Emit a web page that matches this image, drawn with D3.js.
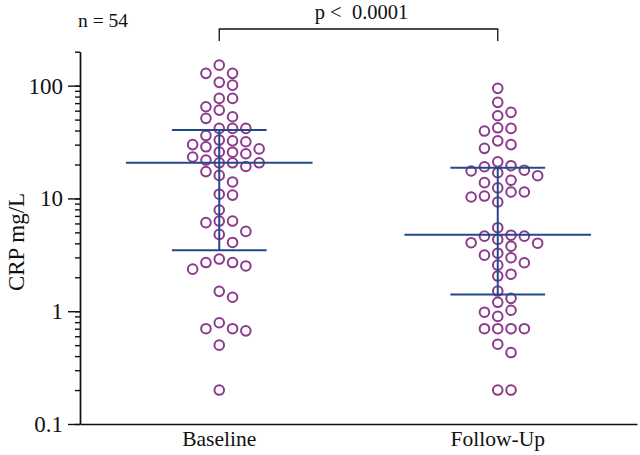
<!DOCTYPE html>
<html>
<head>
<meta charset="utf-8">
<script src="https://cdn.jsdelivr.net/npm/d3@7"></script>
<style>
  html, body { margin: 0; padding: 0; background: #fff; }
  svg { display: block; font-family: "Liberation Serif", "Times New Roman", serif; }
</style>
</head>
<body>
<svg id="chart" width="640" height="455"></svg>
<script>
// ---- data ----
const categories = ["Baseline", "Follow-Up"];
const baselineValues = [152, 128.6, 128.6, 107, 101, 77.1, 77.1, 65, 60.7, 53, 51.3,
  41.8, 41.8, 41.8, 36.1, 32.9, 32.4, 31.8, 30.0, 28.7, 27.5, 25.7, 24.9, 25.8, 23.3,
  21.9, 20.7, 20.7, 20.7, 19.2, 17.3, 16.0, 14.0, 10.7, 10.9, 7.9, 6.3, 6.3, 6.1,
  4.8, 5.1, 4.07, 2.9, 2.7, 2.7, 2.52, 2.36, 1.50, 1.33, 0.79, 0.70, 0.70, 0.67, 0.50, 0.20];
const followUpValues = [94.6, 71.1, 58.0, 54.1, 42.3, 41.8, 39.6, 32.4, 30.0, 27.8,
  21.1, 19.1, 17.5, 16.9, 17.8, 19.5, 14.5, 13.8, 15.9, 12.4, 11.4, 10.3, 10.5, 11.4,
  9.3, 5.5, 4.72, 4.33, 4.01, 3.77, 4.05, 4.63, 4.63, 3.14, 2.69, 2.98, 2.56, 3.27,
  2.13, 2.05, 1.51, 1.30, 1.20, 1.02, 0.98, 0.90, 0.70, 0.70, 0.70, 0.70, 0.51, 0.43, 0.20, 0.20];
const medians = [20.7, 4.77];
const q1Values = [3.48, 1.41];
const q3Values = [40.4, 18.7];
const yMajorTicks = [0.1, 1, 10, 100];
const yTickLabels = ["0.1", "1", "10", "100"];
const yDomain = [0.1, 200];
const yTitle = "CRP mg/L";
const nLabel = "n = 54";
const pLabel = "p <  0.0001";

// ---- layout ----
const svg = d3.select("#chart");
const plotLeft = 80, plotRight = 637, plotTop = 51.7, plotBottom = 424;
const purple = "#8b3a8c", navy = "#21498a";

const x = d3.scaleBand().domain(categories).range([plotLeft, plotRight]).padding(0);
const y = d3.scaleLog().domain(yDomain).range([plotBottom, plotTop]);

// y axis: minor ticks
const minorAxis = d3.axisLeft(y).tickValues(y.ticks()).tickSize(5).tickSizeOuter(0).tickFormat("");
svg.append("g").attr("transform", `translate(${plotLeft},0)`).call(minorAxis)
  .call(g => g.selectAll("line,path").attr("stroke", "#111").attr("stroke-width", 1.4));
// y axis: major ticks
const majorAxis = d3.axisLeft(y).tickValues(yMajorTicks).tickSize(12).tickSizeOuter(0)
  .tickPadding(5).tickFormat((d, i) => yTickLabels[i]);
svg.append("g").attr("transform", `translate(${plotLeft},0)`).call(majorAxis)
  .call(g => g.selectAll("line,path").attr("stroke", "#111").attr("stroke-width", 1.4))
  .call(g => g.selectAll("text").attr("font-family", "Liberation Serif").attr("font-size", 23).attr("fill", "#111"));

// x axis
const xAxis = d3.axisBottom(x).tickSize(0).tickSizeOuter(0).tickPadding(7);
svg.append("g").attr("transform", `translate(0,${plotBottom})`).call(xAxis)
  .call(g => g.select("path").attr("stroke", "#111").attr("stroke-width", 1.4))
  .call(g => g.selectAll("text").attr("font-family", "Liberation Serif").attr("font-size", 21.5).attr("fill", "#111"));

// y title
svg.append("text")
  .attr("transform", `translate(24,242) rotate(-90)`)
  .attr("text-anchor", "middle")
  .attr("font-size", 23).attr("fill", "#111")
  .text(yTitle);

// beeswarm layout (slots)
const r = 4.8, step = 13.3, minGap = 10.5;
function swarm(values, cx) {
  const pts = values.map(v => ({ v, py: y(v) })).sort((a, b) => a.py - b.py);
  const placed = [];
  const order = [0, 1, -1, 2, -2, 3, -3, 4, -4];
  pts.forEach(p => {
    for (const k of order) {
      const clash = placed.some(q => q.k === k && Math.abs(q.py - p.py) < minGap);
      if (!clash) { p.k = k; break; }
    }
    p.px = cx + p.k * step;
    placed.push(p);
  });
  return pts;
}

const groups = [baselineValues, followUpValues];
groups.forEach((vals, i) => {
  const cx = x(categories[i]) + x.bandwidth() / 2;
  const pts = swarm(vals, cx);
  svg.append("g").selectAll("circle").data(pts).join("circle")
    .attr("cx", d => d.px).attr("cy", d => d.py).attr("r", r)
    .attr("fill", "#fff").attr("stroke", purple).attr("stroke-width", 2);
});

// summary lines (on top)
categories.forEach((c, i) => {
  const cx = x(c) + x.bandwidth() / 2;
  const bw = x.bandwidth();
  const g = svg.append("g").attr("stroke", navy).attr("stroke-width", 2);
  g.append("line").attr("x1", cx - bw * 0.335).attr("x2", cx + bw * 0.335)
    .attr("y1", y(medians[i])).attr("y2", y(medians[i]));
  g.append("line").attr("x1", cx - bw * 0.17).attr("x2", cx + bw * 0.17)
    .attr("y1", y(q3Values[i])).attr("y2", y(q3Values[i]));
  g.append("line").attr("x1", cx - bw * 0.17).attr("x2", cx + bw * 0.17)
    .attr("y1", y(q1Values[i])).attr("y2", y(q1Values[i]));
  g.append("line").attr("x1", cx).attr("x2", cx)
    .attr("y1", y(q3Values[i])).attr("y2", y(q1Values[i]));
});

// significance bracket
const c0 = x(categories[0]) + x.bandwidth() / 2;
const c1 = x(categories[1]) + x.bandwidth() / 2;
svg.append("path")
  .attr("d", `M${c0},41 V29 H${c1} V41`)
  .attr("fill", "none").attr("stroke", "#111").attr("stroke-width", 1.3);
svg.append("text").attr("x", (c0 + c1) / 2 + 3).attr("y", 19)
  .attr("text-anchor", "middle").attr("font-size", 20.5).attr("fill", "#111")
  .style("white-space", "pre").text(pLabel);

svg.append("text").attr("x", 78).attr("y", 27)
  .attr("font-size", 19.5).attr("fill", "#111").text(nLabel);
</script>
</body>
</html>
